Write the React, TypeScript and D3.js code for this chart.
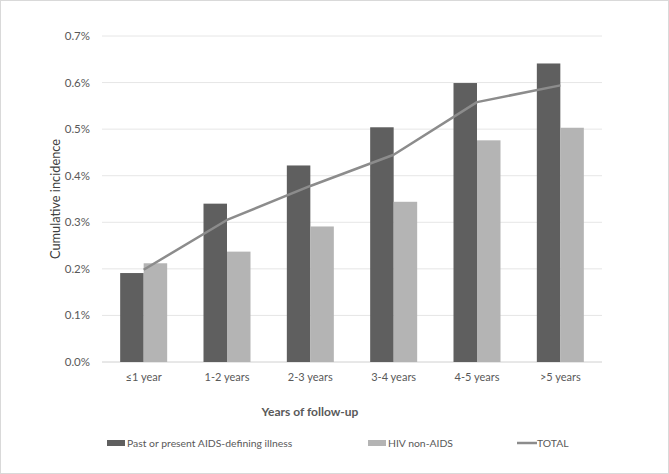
import React, { useEffect, useRef } from "react";
import * as d3 from "d3";

const categories = ["≤1 year", "1-2 years", "2-3 years", "3-4 years", "4-5 years", ">5 years"];
const aidsValues = [0.191, 0.34, 0.422, 0.504, 0.599, 0.641];
const nonAidsValues = [0.212, 0.237, 0.291, 0.344, 0.476, 0.503];
const totalValues = [0.198, 0.305, 0.378, 0.445, 0.558, 0.594];
const yTicks = [0, 0.1, 0.2, 0.3, 0.4, 0.5, 0.6, 0.7];

const W = 669;
const H = 474;
const margin = { top: 36, right: 67, bottom: 112, left: 102 };
const FONT = "Lato, 'Open Sans', sans-serif";

export default function App() {
  const ref = useRef<SVGSVGElement>(null);

  useEffect(() => {
    const svg = d3.select(ref.current);
    svg.selectAll("*").remove();

    const width = W - margin.left - margin.right;
    const height = H - margin.top - margin.bottom;

    svg.append("rect")
      .attr("x", 0.5).attr("y", 0.5)
      .attr("width", W - 1).attr("height", H - 1)
      .attr("fill", "#fff").attr("stroke", "#d9d9d9");

    const g = svg.append("g").attr("transform", `translate(${margin.left},${margin.top})`);

    const x = d3.scaleBand().domain(categories).range([0, width]).paddingInner(0.436).paddingOuter(0.218);
    const y = d3.scaleLinear().domain([0, 0.7]).range([height, 0]);
    const half = x.bandwidth() / 2;

    // gridlines
    g.selectAll("line.grid")
      .data(yTicks)
      .enter()
      .append("line")
      .attr("x1", 0).attr("x2", width)
      .attr("y1", d => y(d)).attr("y2", d => y(d))
      .attr("stroke", d => (d === 0 ? "#d0d0d0" : "#e6e6e6"))
      .attr("stroke-width", 1);

    g.selectAll("text.ytick")
      .data(yTicks)
      .enter()
      .append("text")
      .attr("x", -12)
      .attr("y", d => y(d))
      .attr("dy", "0.35em")
      .attr("text-anchor", "end")
      .attr("font-family", FONT)
      .attr("font-size", 11.5)
      .attr("fill", "#595959")
      .text(d => d.toFixed(1) + "%");

    // bars
    g.selectAll("rect.aids")
      .data(aidsValues)
      .enter()
      .append("rect")
      .attr("x", (d, i) => x(categories[i])!)
      .attr("y", d => y(d))
      .attr("width", half)
      .attr("height", d => height - y(d))
      .attr("fill", "#5f5f5f");

    g.selectAll("rect.nonaids")
      .data(nonAidsValues)
      .enter()
      .append("rect")
      .attr("x", (d, i) => x(categories[i])! + half)
      .attr("y", d => y(d))
      .attr("width", half)
      .attr("height", d => height - y(d))
      .attr("fill", "#b4b4b4");

    const line = d3.line<number>()
      .x((d, i) => x(categories[i])! + half)
      .y(d => y(d));
    g.append("path")
      .datum(totalValues)
      .attr("fill", "none")
      .attr("stroke", "#8c8c8c")
      .attr("stroke-width", 2.5)
      .attr("stroke-linejoin", "round")
      .attr("d", line);

    // x labels
    g.selectAll("text.xtick")
      .data(categories)
      .enter()
      .append("text")
      .attr("x", d => x(d)! + half)
      .attr("y", height + 19)
      .attr("text-anchor", "middle")
      .attr("font-family", FONT)
      .attr("font-size", 11)
      .attr("fill", "#595959")
      .text(d => d);

    // axis titles
    svg.append("text")
      .attr("x", 310)
      .attr("y", 416)
      .attr("text-anchor", "middle")
      .attr("font-family", FONT)
      .attr("font-size", 12)
      .attr("font-weight", "bold")
      .attr("fill", "#595959")
      .text("Years of follow-up");

    svg.append("text")
      .attr("transform", `translate(60,${margin.top + height / 2}) rotate(-90)`)
      .attr("text-anchor", "middle")
      .attr("font-family", FONT)
      .attr("font-size", 12.8)
      .attr("fill", "#404040")
      .text("Cumulative incidence");

    // legend
    const leg = svg.append("g").attr("font-family", FONT).attr("font-size", 10.4).attr("fill", "#595959");
    leg.append("rect").attr("x", 107).attr("y", 440).attr("width", 18).attr("height", 6).attr("fill", "#5f5f5f");
    leg.append("text").attr("x", 127).attr("y", 447).text("Past or present AIDS-defining illness");
    leg.append("rect").attr("x", 368).attr("y", 440).attr("width", 18).attr("height", 6).attr("fill", "#b4b4b4");
    leg.append("text").attr("x", 388).attr("y", 447).text("HIV non-AIDS");
    leg.append("line").attr("x1", 517).attr("x2", 537).attr("y1", 443).attr("y2", 443)
      .attr("stroke", "#8c8c8c").attr("stroke-width", 2.5);
    leg.append("text").attr("x", 537).attr("y", 447).text("TOTAL");
  }, []);

  return (
    <svg
      ref={ref}
      width={W}
      height={H}
      style={{ position: "absolute", left: 0, top: 0, display: "block" }}
    />
  );
}
